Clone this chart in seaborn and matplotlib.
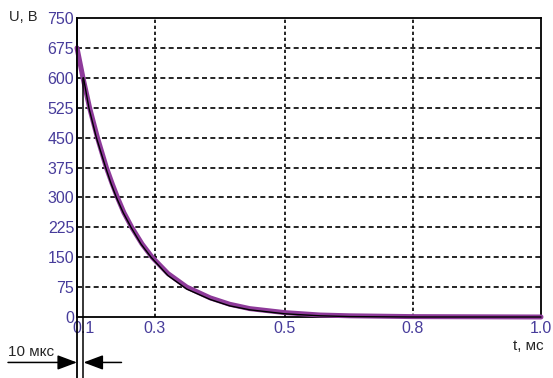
import numpy as np
import pandas as pd
import matplotlib
matplotlib.use("Agg")
import matplotlib.pyplot as plt
import seaborn as sns

# purple curve (t in ms, U in V)
t_purple = [0, 0.092, 0.117, 0.139, 0.164, 0.180, 0.195, 0.213, 0.235, 0.264, 0.292,
            0.320, 0.349, 0.385, 0.415, 0.446, 0.5, 0.582, 0.652, 0.8, 1.0]
u_purple = [675, 600, 525, 450, 375, 335, 300, 262, 225, 183, 150,
            109, 75, 48, 32, 21, 11, 5, 3, 1, 0]

# black curve
t_black = [0.1, 0.115, 0.136, 0.162, 0.177, 0.192, 0.211, 0.233, 0.261, 0.289,
           0.320, 0.349, 0.385, 0.415, 0.446, 0.5, 0.582, 0.652, 0.8, 1.0]
u_black = [600, 525, 450, 375, 335, 300, 262, 225, 183, 150,
           104, 70, 44, 28, 18, 8, 3, 1, 0, 0]

x_ticks = [0.1, 0.3, 0.5, 0.8, 1.0]
x_labels = ["0.1", "0.3", "0.5", "0.8", "1.0"]
x_grid = [0.3, 0.5, 0.8]
y_ticks = list(range(0, 751, 75))

# the time axis of the original is not uniform
knot_t = [0, 0.1, 0.3, 0.5, 0.8, 1.0]
knot_f = [0, 0.014, 0.168, 0.448, 0.724, 1.0]


def fwd(t):
    return np.interp(t, knot_t, knot_f)


def inv(f):
    return np.interp(f, knot_f, knot_t)


sns.set_style("white")
plt.rcParams["font.family"] = ["Liberation Sans", "DejaVu Sans"]

fig = plt.figure(figsize=(5.53, 3.78), dpi=100)
ax = fig.add_axes([77 / 553, 1 - 317 / 378, 464 / 553, 299 / 378])
ax.set_xscale("function", functions=(fwd, inv))
ax.set_xlim(0, 1.0)
ax.set_ylim(0, 750)

for y in y_ticks[1:-1]:
    ax.axhline(y, color="black", lw=1.2, ls=(0, (3, 2)), zorder=1)
for x in x_grid:
    ax.axvline(x, color="black", lw=1.2, ls=(0, (2, 1.6)), zorder=1)

purple = pd.DataFrame({"t": t_purple, "U": u_purple})
black = pd.DataFrame({"t": t_black, "U": u_black})
sns.lineplot(data=purple, x="t", y="U", color="#8E3A9A", lw=3.6, ax=ax,
             zorder=3, clip_on=False)
sns.lineplot(data=black, x="t", y="U", color="black", lw=1.0, ax=ax,
             zorder=4, clip_on=False)

# extended vertical lines for the 10 us marker
ax.axvline(0, ymin=-0.204, ymax=1, color="black", lw=1.3, clip_on=False, zorder=5)
ax.axvline(0.1, ymin=-0.204, ymax=600 / 750, color="black", lw=1.1,
           clip_on=False, zorder=5)

trans = ax.get_xaxis_transform()
arrow = dict(arrowstyle="-|>,head_length=0.8,head_width=0.3", color="black",
             lw=1.1, mutation_scale=15, shrinkA=0, shrinkB=0)
ax.annotate("", xy=(0, -0.152), xycoords=trans, xytext=(-69, 0),
            textcoords="offset pixels", arrowprops=arrow, annotation_clip=False)
ax.annotate("", xy=(0.1, -0.152), xycoords=trans, xytext=(38, 0),
            textcoords="offset pixels", arrowprops=arrow, annotation_clip=False)
ax.annotate("10 мкс", xy=(0, -0.152), xycoords=trans, xytext=(-69, 3),
            textcoords="offset pixels", ha="left", va="bottom", fontsize=11,
            annotation_clip=False)

ax.set_xticks(x_ticks)
ax.set_xticklabels(x_labels)
ax.set_yticks(y_ticks)
ax.minorticks_off()
ax.tick_params(axis="both", length=0, labelsize=11.5, labelcolor="#473C9B")
ax.tick_params(axis="x", pad=3)
ax.tick_params(axis="y", pad=2)
ax.set_xlabel("")
ax.set_ylabel("")

for s in ax.spines.values():
    s.set_color("black")
    s.set_linewidth(1.3)

fig.text(23 / 553, 1 - 17 / 378, "U, B", ha="center", va="center", fontsize=10.5)
fig.text(528 / 553, 1 - 346 / 378, "t, мс", ha="center", va="center", fontsize=11)

fig.savefig("out.png", dpi=100)
